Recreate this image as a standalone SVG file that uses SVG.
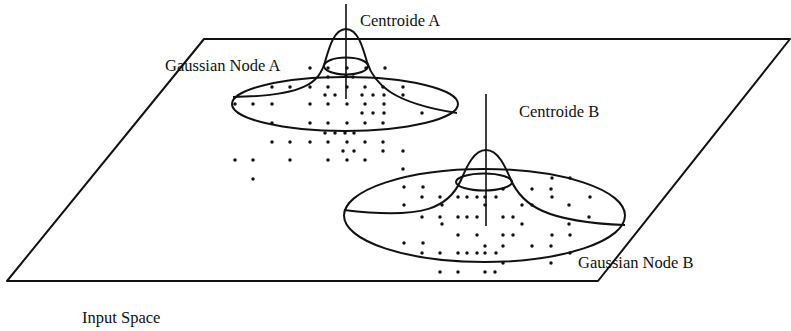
<svg xmlns="http://www.w3.org/2000/svg" width="791" height="331" viewBox="0 0 791 331">
<style>
.ln{fill:none;stroke:#111;stroke-width:2;stroke-linejoin:round}
.ax{fill:none;stroke:#111;stroke-width:1.6}
.lb{font-family:"Liberation Serif","Times New Roman",serif;font-size:16.5px;fill:#111}
.pts circle{fill:#111}
</style>
<defs><circle id="d" r="1.75"/></defs>
<rect width="791" height="331" fill="#fff"/>
<g id="input-space">
<polygon class="ln" points="204,39 790,39 598,281 7,281"/>
<text class="lb" x="82" y="323">Input Space</text>
</g>
<g id="data-points" class="pts">
<circle cx="310" cy="68" r="1.75"/><circle cx="328" cy="68" r="1.75"/><circle cx="347" cy="68" r="1.75"/><circle cx="366" cy="68" r="1.75"/><circle cx="385" cy="68" r="1.75"/>
<circle cx="328" cy="77" r="1.75"/><circle cx="346" cy="76" r="1.75"/><circle cx="353" cy="77" r="1.75"/>
<circle cx="272" cy="87" r="1.75"/><circle cx="290" cy="87" r="1.75"/><circle cx="310" cy="87" r="1.75"/><circle cx="328" cy="87" r="1.75"/><circle cx="347" cy="87" r="1.75"/><circle cx="365" cy="87" r="1.75"/><circle cx="383" cy="87" r="1.75"/><circle cx="403" cy="87" r="1.75"/>
<circle cx="325" cy="95" r="1.75"/><circle cx="335" cy="95" r="1.75"/><circle cx="362" cy="95" r="1.75"/><circle cx="373" cy="95" r="1.75"/><circle cx="384" cy="95" r="1.75"/><circle cx="403" cy="95" r="1.75"/>
<circle cx="235" cy="104" r="1.75"/><circle cx="253" cy="104" r="1.75"/><circle cx="272" cy="104" r="1.75"/><circle cx="310" cy="104" r="1.75"/><circle cx="328" cy="104" r="1.75"/><circle cx="347" cy="104" r="1.75"/><circle cx="365" cy="104" r="1.75"/><circle cx="384" cy="104" r="1.75"/>
<circle cx="362" cy="113" r="1.75"/><circle cx="373" cy="113" r="1.75"/><circle cx="384" cy="113" r="1.75"/><circle cx="422" cy="113" r="1.75"/>
<circle cx="272" cy="123" r="1.75"/><circle cx="310" cy="123" r="1.75"/><circle cx="328" cy="123" r="1.75"/><circle cx="347" cy="123" r="1.75"/><circle cx="365" cy="123" r="1.75"/><circle cx="383" cy="123" r="1.75"/>
<circle cx="325" cy="133" r="1.75"/><circle cx="335" cy="133" r="1.75"/><circle cx="345" cy="133" r="1.75"/><circle cx="354" cy="133" r="1.75"/>
<circle cx="272" cy="142" r="1.75"/><circle cx="290" cy="142" r="1.75"/><circle cx="310" cy="142" r="1.75"/><circle cx="328" cy="142" r="1.75"/><circle cx="347" cy="142" r="1.75"/><circle cx="365" cy="142" r="1.75"/><circle cx="383" cy="142" r="1.75"/>
<circle cx="343" cy="151" r="1.75"/><circle cx="354" cy="151" r="1.75"/><circle cx="383" cy="151" r="1.75"/><circle cx="403" cy="151" r="1.75"/>
<circle cx="235" cy="160" r="1.75"/><circle cx="253" cy="160" r="1.75"/><circle cx="290" cy="160" r="1.75"/><circle cx="328" cy="160" r="1.75"/><circle cx="347" cy="160" r="1.75"/><circle cx="365" cy="160" r="1.75"/>
<circle cx="403" cy="169" r="1.75"/>
<circle cx="253" cy="179" r="1.75"/>
<circle cx="552" cy="178" r="1.75"/><circle cx="570" cy="178" r="1.75"/>
<circle cx="404" cy="187" r="1.75"/><circle cx="423" cy="187" r="1.75"/><circle cx="503" cy="189" r="1.75"/><circle cx="532" cy="189" r="1.75"/><circle cx="551" cy="189" r="1.75"/>
<circle cx="422" cy="197" r="1.75"/><circle cx="440" cy="197" r="1.75"/><circle cx="458" cy="197" r="1.75"/><circle cx="467" cy="197" r="1.75"/><circle cx="477" cy="197" r="1.75"/><circle cx="485" cy="197" r="1.75"/><circle cx="496" cy="197" r="1.75"/><circle cx="552" cy="197" r="1.75"/><circle cx="590" cy="197" r="1.75"/>
<circle cx="404" cy="205" r="1.75"/><circle cx="442" cy="205" r="1.75"/><circle cx="485" cy="205" r="1.75"/><circle cx="522" cy="205" r="1.75"/><circle cx="532" cy="205" r="1.75"/><circle cx="569" cy="205" r="1.75"/>
<circle cx="422" cy="217" r="1.75"/><circle cx="440" cy="217" r="1.75"/><circle cx="458" cy="217" r="1.75"/><circle cx="467" cy="217" r="1.75"/><circle cx="477" cy="217" r="1.75"/><circle cx="503" cy="217" r="1.75"/><circle cx="513" cy="217" r="1.75"/><circle cx="589" cy="217" r="1.75"/>
<circle cx="442" cy="224" r="1.75"/><circle cx="522" cy="224" r="1.75"/><circle cx="569" cy="224" r="1.75"/>
<circle cx="458" cy="235" r="1.75"/><circle cx="477" cy="235" r="1.75"/><circle cx="503" cy="235" r="1.75"/><circle cx="513" cy="235" r="1.75"/><circle cx="552" cy="235" r="1.75"/><circle cx="570" cy="235" r="1.75"/>
<circle cx="404" cy="243" r="1.75"/><circle cx="423" cy="243" r="1.75"/><circle cx="485" cy="246" r="1.75"/><circle cx="503" cy="246" r="1.75"/><circle cx="532" cy="246" r="1.75"/><circle cx="551" cy="246" r="1.75"/>
<circle cx="422" cy="253" r="1.75"/><circle cx="440" cy="253" r="1.75"/><circle cx="458" cy="253" r="1.75"/><circle cx="467" cy="253" r="1.75"/><circle cx="477" cy="253" r="1.75"/><circle cx="485" cy="253" r="1.75"/><circle cx="496" cy="253" r="1.75"/><circle cx="570" cy="253" r="1.75"/>
<circle cx="503" cy="263" r="1.75"/><circle cx="551" cy="263" r="1.75"/>
<circle cx="440" cy="272" r="1.75"/><circle cx="458" cy="272" r="1.75"/><circle cx="485" cy="272" r="1.75"/><circle cx="495" cy="272" r="1.75"/>
</g>
<g id="node-a">
<ellipse class="ln" cx="345" cy="104" rx="113" ry="27"/>
<ellipse class="ln" cx="346" cy="66" rx="22" ry="8.5"/>
<path class="ln" d="M346,29 C334,29 329,48 325,62 C319,82 306,96 233,97"/>
<path class="ln" d="M346,29 C358,29 363,48 367,62 C374,84 392,103 457,113"/>
<line class="ax" x1="346" y1="4" x2="346" y2="99"/>
<text class="lb" x="360" y="26">Centroide A</text>
<text class="lb" x="165" y="71">Gaussian Node A</text>
</g>
<g id="node-b">
<ellipse class="ln" cx="484.5" cy="215.5" rx="140.5" ry="46.5"/>
<ellipse class="ln" cx="484" cy="182" rx="28" ry="8.5"/>
<path class="ln" d="M486,150 C474,150 467,166 461,180 C449,207 425,220 344,210"/>
<path class="ln" d="M486,150 C498,150 505,166 511,180 C522,205 545,222 625,225"/>
<line class="ax" x1="486" y1="94" x2="486" y2="226"/>
<text class="lb" x="519" y="117">Centroide B</text>
<text class="lb" x="578" y="268">Gaussian Node B</text>
</g>
<g id="connectors"/>
</svg>
